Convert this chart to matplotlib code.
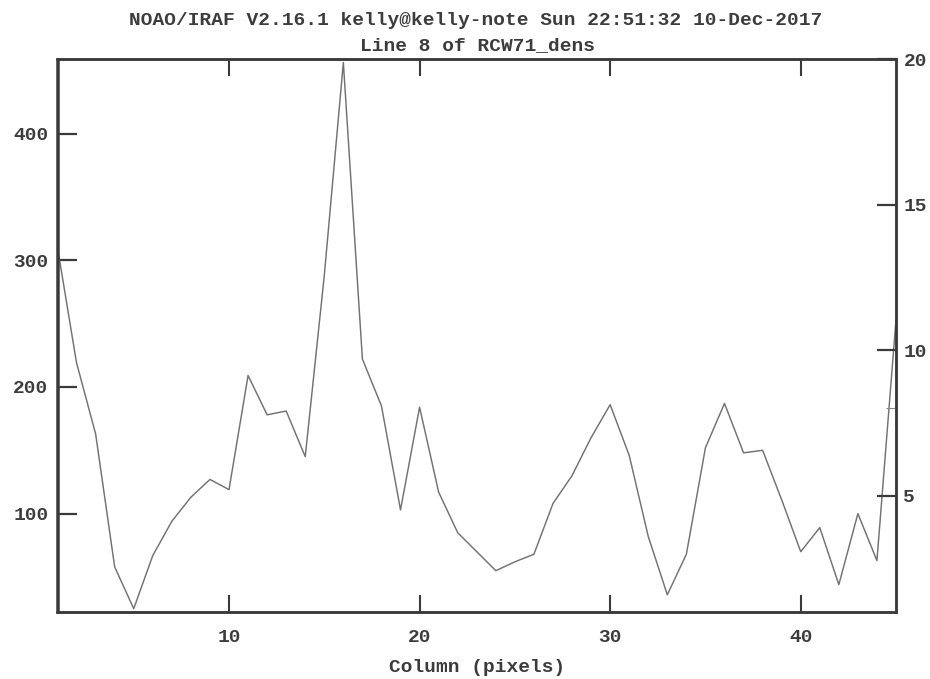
import numpy as np
import matplotlib
matplotlib.use("Agg")
import matplotlib.pyplot as plt
import matplotlib.transforms as mtransforms

# column profile, line 8 of RCW71_dens
columns = np.arange(1, 46)
values = [310, 219, 163, 58, 25, 67, 94, 113, 127, 119,
          209, 178, 181, 145, 288, 456, 222, 185, 103, 184,
          117, 85, 70, 55, 62, 68, 108, 130, 160, 186,
          146, 82, 36, 68, 152, 187, 148, 150, 111, 70,
          89, 44, 100, 63, 253]

title1 = "NOAO/IRAF V2.16.1 kelly@kelly-note Sun 22:51:32 10-Dec-2017"
title2 = "Line 8 of RCW71_dens"
xlabel = "Column (pixels)"

xticks = [10, 20, 30, 40]
left_ticks = [100, 200, 300, 400]
right_ticks = [5, 10, 15, 20]

ink = "#3a3a3a"
txt = "#3c3c3c"
W, H = 930, 679
font = dict(family="Liberation Mono", weight="bold", fontsize=14, color=txt)


def label(where, x, y, s, trans, ha="center", dx=0.0, dy=0.0):
    # text placed by baseline, shifted by a pixel offset
    t = mtransforms.offset_copy(trans, fig=fig, x=dx, y=dy, units="dots")
    where.text(x, y, s, transform=t, ha=ha, va="baseline", **font)


fig = plt.figure(figsize=(W / 100, H / 100), dpi=100)
ax = fig.add_axes([57.5 / W, 67 / H, (896 - 57.5) / W, (612 - 59) / H])

ax.plot(columns, values, color="#727272", lw=1.05)
ax.set_xlim(1, 45)
ax.set_ylim(22.4, 458.8)

for s in ax.spines.values():
    s.set_linewidth(1.8)
    s.set_color(ink)

ax.set_xticks(xticks)
ax.set_yticks(left_ticks)
ax.set_xticklabels([])
ax.set_yticklabels([])
ax.tick_params(axis="x", direction="in", length=12, width=1.5, color=ink, top=True)
ax.tick_params(axis="y", direction="in", length=14, width=1.6, color=ink, right=False)

# second scale on the right
ax2 = ax.twinx()
ax2.set_ylim(1, 20)
ax2.set_yticks(right_ticks)
ax2.set_yticklabels([])
ax2.set_yticks([8], minor=True)
ax2.tick_params(axis="y", which="major", direction="in", length=14, width=1.6, color=ink)
ax2.tick_params(axis="y", which="minor", direction="in", length=7, width=0.8,
                color="#888888")
for s in ax2.spines.values():
    s.set_linewidth(1.8)
    s.set_color(ink)

# tick labels
xtr = ax.get_xaxis_transform()
for t in xticks:
    label(ax, t, 0, str(t), xtr, dy=-(641.5 - 612))
ltr = ax.get_yaxis_transform()
for t in left_ticks:
    label(ax, 0, t, str(t), ltr, ha="right", dx=-9, dy=-6.5)
rtr = ax2.get_yaxis_transform()
for t in right_ticks:
    label(ax2, 1, t, str(t), rtr, ha="left", dx=7.5, dy=-6.5)

# titles and axis label, in pixel coordinates
pix = mtransforms.IdentityTransform()
label(fig, 476, H - 25, title1, pix)
label(fig, 477, H - 50, title2, pix)
label(fig, 477, H - 672.5, xlabel, pix)

fig.savefig("out.png", dpi=100, facecolor="white")
